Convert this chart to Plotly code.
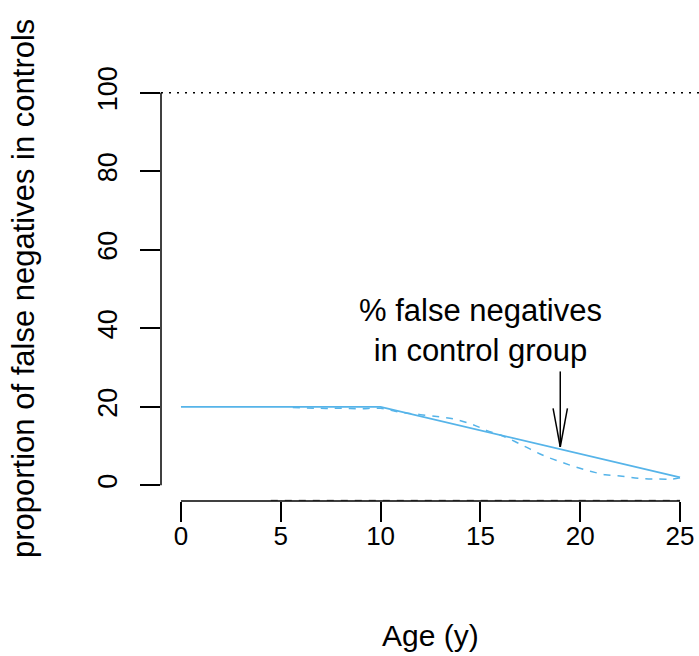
import plotly.graph_objects as go

# ---- data ----
age_solid = [0, 10, 25]
fn_solid = [20, 20, 2]

age_dashed = [5.6, 7, 8, 9, 10, 11, 12, 13, 13.75, 14.6, 15.3, 16.0, 16.75, 17.5, 18.25, 19.0, 19.75, 20.5, 21.25, 22.1, 22.9, 23.75, 24.6, 25]
fn_dashed = [19.8, 19.6, 19.6, 19.5, 19.6, 18.6, 18.0, 17.4, 16.8, 15.5, 14.0, 12.8, 11.1, 9.2, 7.4, 6.0, 4.7, 3.6, 2.7, 2.3, 1.8, 1.6, 1.6, 1.9]

age_gray = [4.5, 25]
fn_gray = [-3.85, -3.85]

x_ticks = [0, 5, 10, 15, 20, 25]
y_ticks = [0, 20, 40, 60, 80, 100]
ref_level = 100

arrow_x = 19
arrow_tail = 29
arrow_tip = 9.8
label_text = "% false negatives<br>in control group"
label_x = 15
label_y = 39.5

x_title = "Age (y)"
y_title = "proportion of false negatives in controls"

BLUE = "#56B4E9"
FONT = "Liberation Sans, Arial, sans-serif"

W, H = 699, 656
L, T, B = 161, 77, 155

fig = go.Figure()

fig.add_trace(go.Scatter(x=age_gray, y=fn_gray, mode="lines",
                         line=dict(color="#777777", width=1.5, dash="7px,7px"),
                         showlegend=False, hoverinfo="skip"))
fig.add_trace(go.Scatter(x=age_dashed, y=fn_dashed, mode="lines",
                         line=dict(color=BLUE, width=1.5, dash="7px,7px", shape="spline"),
                         showlegend=False))
fig.add_trace(go.Scatter(x=age_solid, y=fn_solid, mode="lines",
                         line=dict(color=BLUE, width=1.8),
                         showlegend=False))

# reference dotted line at 100
fig.add_shape(type="line", xref="paper", x0=0, x1=1, yref="y", y0=ref_level, y1=ref_level,
              line=dict(color="black", width=1.6, dash="2px,6px"))

# R-style axis lines spanning first to last tick
fig.add_shape(type="line", xref="x", x0=x_ticks[0], x1=x_ticks[-1], yref="paper", y0=0, y1=0,
              line=dict(color="black", width=1.5))
fig.add_shape(type="line", xref="paper", x0=0, x1=0, yref="y", y0=y_ticks[0], y1=y_ticks[-1],
              line=dict(color="black", width=1.5))

# arrow (R-style open head)
fig.add_shape(type="line", x0=arrow_x, x1=arrow_x, y0=arrow_tail, y1=arrow_tip,
              line=dict(color="black", width=1.5))
for dx in (-0.36, 0.36):
    fig.add_shape(type="line", x0=arrow_x + dx, x1=arrow_x, y0=arrow_tip + 9.8, y1=arrow_tip,
                  line=dict(color="black", width=1.5))

fig.add_annotation(x=label_x, y=label_y, text=label_text, showarrow=False,
                   font=dict(family=FONT, size=31, color="black"), align="center")

# axis titles
fig.add_annotation(xref="paper", yref="paper", x=0.5, y=0, yshift=-134,
                   text=x_title, showarrow=False, xanchor="center", yanchor="middle",
                   font=dict(family=FONT, size=30, color="black"))
fig.add_annotation(xref="paper", yref="paper", x=0, xshift=-138, y=0.5,
                   text=y_title, showarrow=False, textangle=-90,
                   xanchor="center", yanchor="middle",
                   font=dict(family=FONT, size=31, color="black"))

fig.update_layout(
    width=W, height=H,
    margin=dict(l=L, r=0, t=T, b=B),
    plot_bgcolor="white", paper_bgcolor="white",
    font=dict(family=FONT, color="black"),
    xaxis=dict(range=[-1, 25.95], showgrid=False, zeroline=False, showline=False,
               tickvals=x_ticks, ticktext=[str(v) for v in x_ticks],
               ticks="outside", ticklen=20, tickwidth=1.5, tickcolor="black",
               ticklabelstandoff=-8,
               tickfont=dict(size=26, family=FONT)),
    yaxis=dict(range=[-4, 104], showgrid=False, zeroline=False, showline=False,
               tickvals=y_ticks, ticktext=[str(v) for v in y_ticks],
               ticks="outside", ticklen=20, tickwidth=1.5, tickcolor="black",
               tickangle=-90, ticklabelstandoff=12,
               tickfont=dict(size=27, family=FONT)),
)

fig.write_html("out.html",
               config={"displayModeBar": False},
               post_script="document.body.style.margin='0';document.body.style.overflow='hidden';")
